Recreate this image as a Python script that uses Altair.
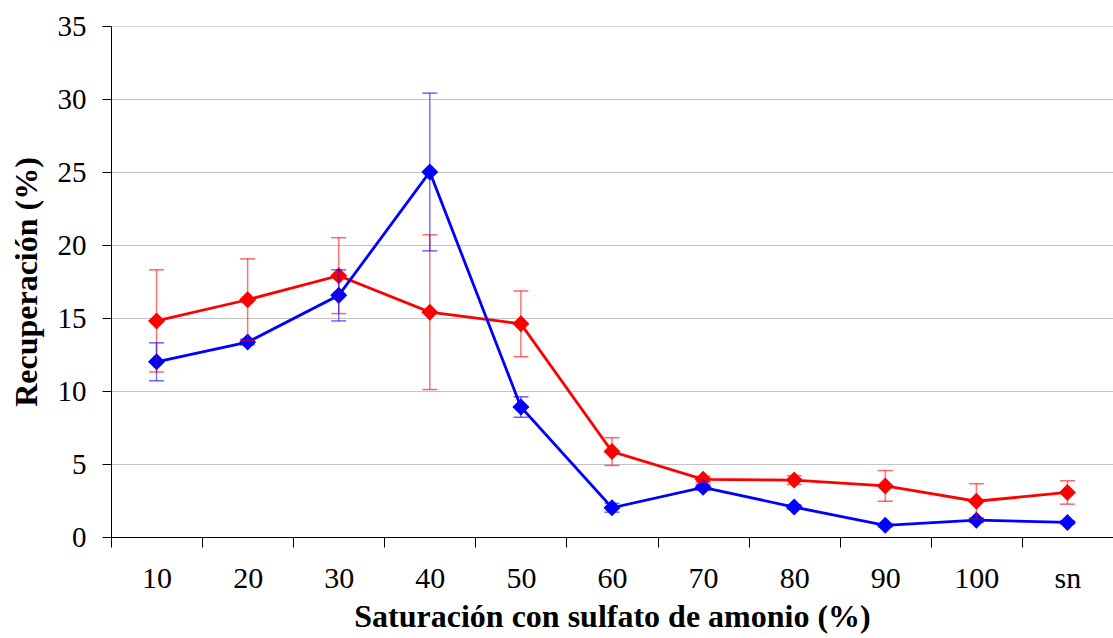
import altair as alt
import pandas as pd

cats = ["10", "20", "30", "40", "50", "60", "70", "80", "90", "100", "sn"]
blue = [12.0, 13.35, 16.55, 25.0, 8.9, 2.0, 3.4, 2.05, 0.8, 1.15, 1.0]
blue_err = [1.3, 0.2, 1.75, 5.4, 0.7, 0.3, 0.2, 0.15, 0.1, 0.15, 0.1]
red = [14.8, 16.25, 17.9, 15.4, 14.6, 5.85, 3.95, 3.9, 3.5, 2.45, 3.05]
red_err = [3.5, 2.8, 2.6, 5.3, 2.25, 0.95, 0.2, 0.3, 1.05, 1.2, 0.8]
y_ticks = [0, 5, 10, 15, 20, 25, 30, 35]

rows = []
for s, vals, errs in [("rojo", red, red_err), ("azul", blue, blue_err)]:
    for i, c in enumerate(cats):
        rows.append({"cat": c, "serie": s, "v": vals[i],
                     "lo": vals[i] - errs[i], "hi": vals[i] + errs[i],
                     "order": i})
df = pd.DataFrame(rows)

FONT = "Liberation Serif"
color = alt.Color("serie:N", scale=alt.Scale(domain=["rojo", "azul"], range=["#ff0000", "#0000ff"]), legend=None)

x = alt.X("cat:N", sort=cats,
          scale=alt.Scale(type="band", paddingInner=0, paddingOuter=0),
          axis=alt.Axis(title="Saturación con sulfato de amonio (%)", tickBand="extent",
                        labelAngle=0, grid=False, domainColor="black", tickColor="black",
                        tickSize=10, labelPadding=16, titlePadding=8,
                        labelFont=FONT, labelFontSize=30, labelColor="black",
                        titleFont=FONT, titleFontSize=32, titleFontWeight="bold", titleColor="black"))
y = alt.Y("v:Q", scale=alt.Scale(domain=[0, 35], nice=False),
          axis=alt.Axis(title="Recuperación (%)", values=y_ticks, grid=True, gridColor="#c4c4c4",
                        gridOpacity={"condition": {"test": "datum.value === 35", "value": 0}, "value": 1},
                        domainColor="black", tickColor="black", tickSize=9, labelPadding=16,
                        titlePadding=14,
                        labelFont=FONT, labelFontSize=29, labelColor="black",
                        titleFont=FONT, titleFontSize=32, titleFontWeight="bold", titleColor="black"))

base = alt.Chart(df)

lines = base.mark_line(strokeWidth=2.8).encode(x=x, y=y, color=color, detail="serie:N", order="order:Q")
points = base.mark_point(shape="diamond", filled=True, size=290, opacity=1).encode(x=x, y=y, color=color)
bars = base.mark_rule(strokeWidth=1.5, opacity=0.55).encode(x=x, y="lo:Q", y2="hi:Q", color=color)
cap_lo = base.mark_tick(size=15, thickness=1.5, opacity=0.6).encode(x=x, y="lo:Q", color=color)
cap_hi = base.mark_tick(size=15, thickness=1.5, opacity=0.6).encode(x=x, y="hi:Q", color=color)

chart = alt.layer(lines, points, bars, cap_lo, cap_hi).properties(
    width=1002, height=511,
    autosize=alt.AutoSizeParams(type="none"),
    padding={"left": 111, "top": 26, "right": 0, "bottom": 101},
).configure_view(stroke=None).configure(background="white")

chart.save("out.html", embed_options={"renderer": "svg", "actions": False})
